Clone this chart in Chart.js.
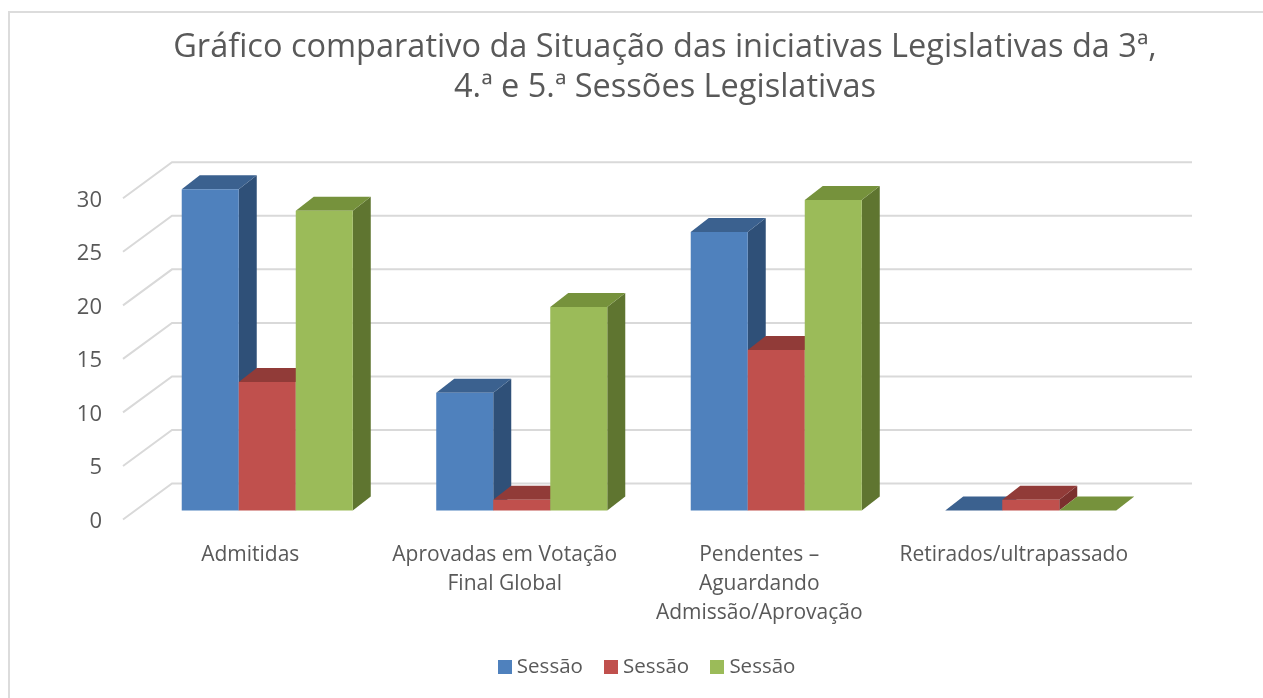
<!DOCTYPE html>
<html lang="pt">
<head>
<meta charset="utf-8">
<title>Iniciativas Legislativas</title>
<script src="https://cdn.jsdelivr.net/npm/chart.js@4"></script>
<style>
  html, body { margin: 0; padding: 0; background: #fff; }
  #caixa { position: relative; width: 1263px; height: 698px; overflow: hidden; }
  #moldura { position: absolute; left: 8px; top: 11px; right: -4px; bottom: -4px; border: 2px solid #dcdcdc; }
  #myChart { position: absolute; left: 0; top: 0; }
</style>
</head>
<body>
<div id="caixa"><div id="moldura"></div><canvas id="myChart" width="1263" height="698"></canvas></div>
<script>
const categorias = [
  'Admitidas',
  ['Aprovadas em Votação', 'Final Global'],
  ['Pendentes –', 'Aguardando', 'Admissão/Aprovação'],
  'Retirados/ultrapassado'
]
const sessao3 = [30, 11, 26, 0]
const sessao4 = [12, 1, 15, 1]
const sessao5 = [28, 19, 29, 0]
const nomes = ['Sessão', 'Sessão', 'Sessão']
const titulo = ['Gráfico comparativo da Situação das iniciativas Legislativas da 3ª,', '4.ª e 5.ª Sessões Legislativas']
const colores = ['#4f81bd', '#c0504d', '#9bbb59']
const topos = ['#3b618f', '#913b38', '#76923c']
const lados = ['#2f5078', '#7b302e', '#5f7530']

const fundoX = 18, fundoY = 14 // profundidade 3d de cada barra

// quadradinho da legenda, para o texto ficar mais perto dele
function caixinha(cor) {
  const c = document.createElement('canvas')
  c.width = 14
  c.height = 14
  const g = c.getContext('2d')
  g.fillStyle = cor
  g.fillRect(0, 0, 14, 14)
  return c
}

// paredes do grafico e faces 3d das barras
const efeito3d = {
  id: 'efeito3d',
  afterLayout(chart) {
    // titulo e legenda nao ficam no centro do canvas
    chart.titleBlock.left += 86
    chart.titleBlock.right += 86
    chart.legend.left += 70
    chart.legend.right += 70
  },
  beforeDatasetsDraw(chart) {
    const { ctx, scales: { x, y } } = chart
    ctx.save()
    ctx.strokeStyle = '#d9d9d9'
    ctx.lineWidth = 2
    y.ticks.forEach(t => {
      const py = y.getPixelForValue(t.value)
      ctx.beginPath()
      ctx.moveTo(x.left - 17, py + 9)
      ctx.lineTo(x.left + 32, py - 27)
      ctx.lineTo(x.right + 34, py - 27)
      ctx.stroke()
    })
    // serie 1 por baixo, serie 3 por cima (o contrario do normal)
    chart.getSortedVisibleDatasetMetas().slice().sort((a, b) => a.index - b.index).forEach(meta => {
      const i = meta.index
      meta.data.forEach(bar => {
        const med = bar.getProps(['x', 'y', 'base', 'width'], true)
        const esq = med.x - med.width / 2
        const dir = med.x + med.width / 2
        // lado
        ctx.fillStyle = lados[i]
        ctx.beginPath()
        ctx.moveTo(dir, med.y)
        ctx.lineTo(dir + fundoX, med.y - fundoY)
        ctx.lineTo(dir + fundoX, med.base - fundoY)
        ctx.lineTo(dir, med.base)
        ctx.closePath()
        ctx.fill()
        // topo
        ctx.fillStyle = topos[i]
        ctx.beginPath()
        ctx.moveTo(esq, med.y)
        ctx.lineTo(esq + fundoX, med.y - fundoY)
        ctx.lineTo(dir + fundoX, med.y - fundoY)
        ctx.lineTo(dir, med.y)
        ctx.closePath()
        ctx.fill()
      })
      meta.controller.draw()
    })
    ctx.restore()
    return false
  }
}

function grafico_barras() {
  const ctx = document.getElementById('myChart')
  const series = [sessao3, sessao4, sessao5]

  new Chart(ctx, {
    type: 'bar',
    data: {
      labels: categorias,
      datasets: series.map((valores, i) => ({
        label: nomes[i],
        data: valores,
        backgroundColor: colores[i],
        categoryPercentage: 0.672,
        barPercentage: 1
      }))
    },
    plugins: [efeito3d],
    options: {
      responsive: false,
      animation: false,
      layout: { padding: { left: 0, right: 105, top: 27, bottom: 11 } },
      plugins: {
        title: {
          display: true,
          text: titulo,
          color: '#595959',
          font: { family: 'Open Sans', size: 32.5, weight: '400', lineHeight: 1.25 },
          padding: { top: 0, bottom: 81 }
        },
        legend: {
          position: 'bottom',
          labels: {
            color: '#595959',
            font: { family: 'Open Sans', size: 20.5 },
            boxHeight: 14,
            usePointStyle: true,
            pointStyleWidth: 4,
            padding: 26,
            generateLabels(chart) {
              return Chart.defaults.plugins.legend.labels.generateLabels(chart).map(item => ({
                ...item,
                pointStyle: caixinha(colores[item.datasetIndex])
              }))
            }
          }
        },
        tooltip: { enabled: false }
      },
      scales: {
        x: {
          afterFit(scale) { scale.height = 120 },
          grid: { display: false },
          border: { display: false },
          ticks: {
            color: '#595959',
            font: { family: 'Open Sans', size: 21, lineHeight: 1.38 },
            padding: 22,
            labelOffset: -17,
            maxRotation: 0,
            autoSkip: false
          }
        },
        y: {
          min: 0,
          max: 30,
          afterFit(scale) { scale.width = 140 },
          grid: { display: false },
          border: { display: false },
          ticks: {
            stepSize: 5,
            color: '#595959',
            font: { family: 'Open Sans', size: 22 },
            padding: 30,
            labelOffset: 11
          }
        }
      }
    }
  })
}

grafico_barras()
</script>
</body>
</html>
